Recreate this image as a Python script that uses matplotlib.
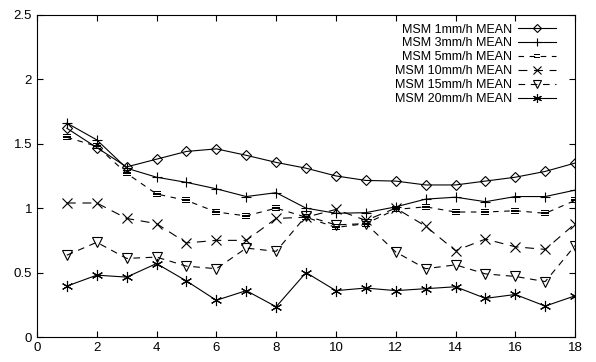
import matplotlib
matplotlib.use("Agg")
import matplotlib.pyplot as plt
import numpy as np

plt.rcParams['font.family'] = ['Liberation Sans', 'DejaVu Sans']

hours = list(range(1, 19))
mean_1mm = [1.62, 1.47, 1.32, 1.38, 1.44, 1.46, 1.41, 1.355, 1.31, 1.25, 1.215, 1.21, 1.18, 1.18, 1.21, 1.24, 1.285, 1.35]
mean_3mm = [1.66, 1.53, 1.31, 1.24, 1.20, 1.15, 1.09, 1.12, 1.00, 0.96, 0.965, 1.01, 1.07, 1.085, 1.05, 1.09, 1.09, 1.14]
mean_5mm = [1.55, 1.48, 1.27, 1.11, 1.06, 0.97, 0.94, 1.00, 0.93, 0.85, 0.88, 0.99, 1.01, 0.97, 0.97, 0.98, 0.96, 1.06]
mean_10mm = [1.04, 1.04, 0.92, 0.88, 0.73, 0.75, 0.75, 0.92, 0.93, 0.99, 0.905, 1.00, 0.86, 0.67, 0.76, 0.70, 0.68, 0.88]
mean_15mm = [0.635, 0.735, 0.61, 0.62, 0.55, 0.53, 0.69, 0.665, 0.94, 0.87, 0.88, 0.66, 0.53, 0.56, 0.49, 0.47, 0.43, 0.71]
mean_20mm = [0.395, 0.48, 0.465, 0.57, 0.435, 0.285, 0.36, 0.235, 0.50, 0.36, 0.38, 0.36, 0.375, 0.39, 0.30, 0.33, 0.24, 0.32]

labels = ['MSM 1mm/h MEAN', 'MSM 3mm/h MEAN', 'MSM 5mm/h MEAN',
          'MSM 10mm/h MEAN', 'MSM 15mm/h MEAN', 'MSM 20mm/h MEAN']
series = [mean_1mm, mean_3mm, mean_5mm, mean_10mm, mean_15mm, mean_20mm]
markers = ['D', '+', r'$\equiv$', 'x', 'v', (6, 2, 0)]
styles = ['-', '-', (0, (5, 5)), (0, (8, 6)), (0, (6, 5)), '-']
msizes = [5, 7, 6, 7, 7, 8]

fig = plt.figure(figsize=(5.96, 3.62), dpi=100)
ax = fig.add_axes([0.062, 0.069, 0.903, 0.89])

for ys, lab, m, ls, ms in zip(series, labels, markers, styles, msizes):
    thin = isinstance(m, str) and m.startswith('$')
    ax.plot(hours, ys, color='black', linestyle=ls, linewidth=0.8,
            marker=m, markersize=ms,
            markerfacecolor='black' if thin else 'none',
            markeredgecolor='black',
            markeredgewidth=0 if thin else 0.8, label=lab)

ax.set_xlim(0, 18)
ax.set_ylim(0, 2.5)
ax.set_xticks(np.arange(0, 19, 2))
ax.set_yticks([0, 0.5, 1, 1.5, 2, 2.5])
ax.set_yticklabels(['0', '0.5', '1', '1.5', '2', '2.5'])
ax.tick_params(direction='in', top=True, right=True, labelsize=9.5, length=4, width=0.8)
for s in ax.spines.values():
    s.set_linewidth(0.8)

# gnuplot-style key: text first, sample line on the right
leg = ax.legend(loc='upper right', markerfirst=False, frameon=False,
                fontsize=9, handlelength=3.0, labelspacing=0.15,
                borderaxespad=0.3, handletextpad=0.5, markerscale=0.8,
                bbox_to_anchor=(0.98, 1.0))

fig.savefig('out.png', dpi=100)
